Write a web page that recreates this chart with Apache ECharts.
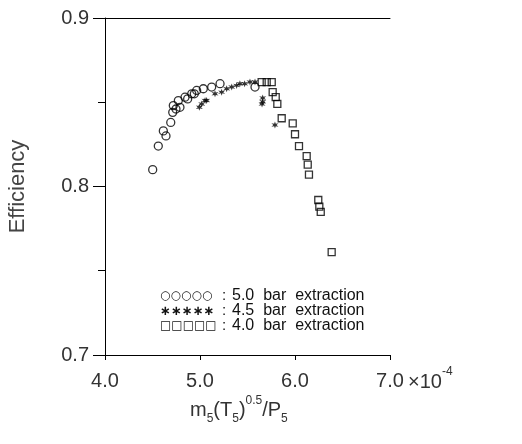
<!DOCTYPE html>
<html>
<head>
<meta charset="utf-8">
<script src="https://cdn.jsdelivr.net/npm/echarts@6/dist/echarts.min.js"></script>
<style>html,body{margin:0;padding:0;background:#fff}#c{width:522px;height:444px}</style>
</head>
<body>
<div id="c"></div>
<script>
// 5.0 bar extraction (circles)
const bar50 = [[4.502,0.810],[4.561,0.824],[4.614,0.833],[4.642,0.830],[4.692,0.838],[4.713,0.844],[4.719,0.848],[4.747,0.846],[4.772,0.851],[4.789,0.847],[4.842,0.853],[4.87,0.852],[4.913,0.855],[4.94,0.855],[4.965,0.857],[5.035,0.858],[5.123,0.859],[5.211,0.861],[5.579,0.859]];
// 4.5 bar extraction (stars)
const bar45 = [[4.993,0.847],[5.018,0.849],[5.053,0.851],[5.07,0.851],[5.158,0.855],[5.228,0.856],[5.281,0.858],[5.334,0.859],[5.386,0.860],[5.42,0.861],[5.47,0.861],[5.526,0.862],[5.579,0.862],[5.66,0.8525],[5.66,0.8503],[5.653,0.849],[5.789,0.8365]];
// 4.0 bar extraction (squares)
const bar40 = [[5.649,0.862],[5.702,0.862],[5.755,0.862],[5.765,0.856],[5.797,0.853],[5.814,0.849],[5.86,0.8405],[5.976,0.8375],[6.0,0.831],[6.042,0.824],[6.123,0.818],[6.134,0.813],[6.147,0.807],[6.245,0.792],[6.256,0.788],[6.271,0.785],[6.386,0.761]];
const xTicks = [4, 5, 6, 7];
const yTicks = [0.7, 0.8, 0.9];
const legendSymbols = ['○○○○○', '∗∗∗∗∗', '□□□□□'];
const legendTexts = ['5.0  bar  extraction', '4.5  bar  extraction', '4.0  bar  extraction'];

const starPath = 'path://M0,-10 L2,-3.46 L8.66,-5 L4,0 L8.66,5 L2,3.46 L0,10 L-2,3.46 L-8.66,5 L-4,0 L-8.66,-5 L-2,-3.46 Z';
const font = 'Liberation Sans';
const chart = echarts.init(document.getElementById('c'), null, {renderer: 'canvas'});

const legendGraphics = [];
legendSymbols.forEach((s, i) => {
  legendGraphics.push({type: 'text', left: 160, top: 290 + i * 15,
    style: {text: s, font: (i === 1 ? 'bold 13px ' : '12px ') + '"DejaVu Sans"', fill: '#111'}});
  legendGraphics.push({type: 'text', left: 222, top: 288 + i * 15,
    style: {text: ':', font: '15px "' + font + '"', fill: '#111'}});
  legendGraphics.push({type: 'text', left: 232, top: 288 + i * 15,
    style: {text: legendTexts[i], font: '16px "' + font + '"', fill: '#111'}});
});

chart.setOption({
  animation: false,
  backgroundColor: '#fff',
  grid: {left: 105, right: 132, top: 18, bottom: 89, outerBoundsMode: 'none', containLabel: false},
  xAxis: [{
    type: 'value', min: 4, max: 7, interval: 1,
    axisLine: {show: true, onZero: false, lineStyle: {color: '#000', width: 1}},
    axisTick: {show: true, length: 5, lineStyle: {color: '#000'}},
    minorTick: {show: false},
    splitLine: {show: false},
    axisLabel: {fontFamily: font, fontSize: 20, color: '#333', margin: 16,
      formatter: v => v.toFixed(1)}
  }, {
    type: 'value', min: 4, max: 7, position: 'top',
    axisLine: {show: true, onZero: false, lineStyle: {color: '#000', width: 1}},
    axisTick: {show: false}, axisLabel: {show: false}, splitLine: {show: false}
  }],
  yAxis: {
    type: 'value', min: 0.7, max: 0.9, interval: 0.1,
    axisLine: {show: true, onZero: false, lineStyle: {color: '#000', width: 1}},
    axisTick: {show: true, length: 12, lineStyle: {color: '#000'}},
    minorTick: {show: true, splitNumber: 2, length: 7, lineStyle: {color: '#000'}},
    splitLine: {show: false},
    axisLabel: {fontFamily: font, fontSize: 20, color: '#333', margin: 16,
      formatter: v => v.toFixed(1)},
    name: 'Efficiency', nameLocation: 'middle', nameGap: 76, nameRotate: 90,
    nameTextStyle: {fontFamily: font, fontSize: 22, color: '#444'}
  },
  series: [
    {type: 'scatter', data: bar50, symbol: 'circle', symbolSize: 8,
      itemStyle: {color: 'transparent', borderColor: '#000', borderWidth: 1.3}},
    {type: 'scatter', data: bar45, symbol: starPath, symbolSize: 7,
      itemStyle: {color: '#000'}},
    {type: 'scatter', data: bar40, symbol: 'rect', symbolSize: 7,
      itemStyle: {color: 'transparent', borderColor: '#000', borderWidth: 1.3}}
  ],
  graphic: [
    {type: 'text', left: 408, top: 366,
      style: {rich: {
        a: {fontFamily: font, fontSize: 20, fill: '#333', lineHeight: 26, verticalAlign: 'bottom'},
        sup: {fontFamily: font, fontSize: 12, fill: '#333', lineHeight: 26, verticalAlign: 'top'}
      }, text: '{a|×10}{sup|-4}'}},
    {type: 'text', left: 190, top: 395,
      style: {rich: {
        m: {fontFamily: font, fontSize: 20, fill: '#333', lineHeight: 30, verticalAlign: 'middle'},
        sub: {fontFamily: font, fontSize: 12, fill: '#333', lineHeight: 30, verticalAlign: 'bottom'},
        sup: {fontFamily: font, fontSize: 12, fill: '#333', lineHeight: 30, verticalAlign: 'top'}
      }, text: '{m|m}{sub|5}{m|(T}{sub|5}{m|)}{sup|0.5}{m|/P}{sub|5}'}},
    ...legendGraphics
  ]
});
</script>
</body>
</html>
